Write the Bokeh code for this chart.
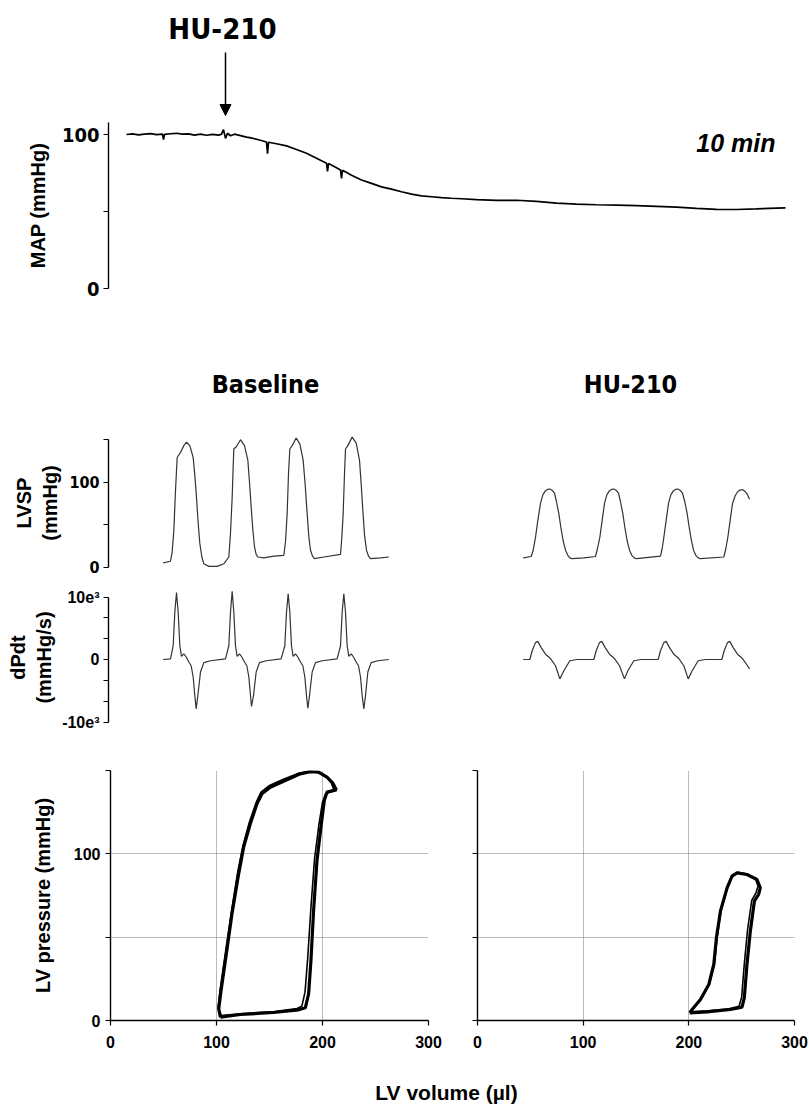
from bokeh.plotting import figure
from bokeh.layouts import column, row
from bokeh.models import (Range1d, FixedTicker, Label, Arrow, NormalHead,
                          LinearAxis, Grid)
from bokeh.embed import file_html
from bokeh.resources import INLINE

# ---------------- data ----------------
# Mean arterial pressure trace (time in min, mmHg)
map_t = [0, 0.6, 1.2, 1.8, 2.4, 3.0, 3.6, 3.7, 3.8, 4.4, 5.0, 5.6, 6.2, 6.8, 7.4,
         8.0, 8.6, 9.2, 9.5, 9.7, 9.9, 10.1, 10.4, 10.8, 11.4, 12.0, 12.6, 13.2,
         14.0, 14.1, 14.2, 15.0, 16.0, 17.0, 18.0, 19.0, 20.0, 20.1, 20.2, 21.0,
         21.4, 21.5, 21.6, 22.5, 23.5, 24.5, 25.5, 26.5, 27.5, 28.5, 29.5, 30.5,
         31.5, 32.5, 33.5, 35, 37, 39, 41, 43, 45, 47, 49, 51, 53, 55, 57, 59,
         61, 63, 65, 65.9]
map_v = [100, 100.4, 99.8, 100.3, 100.6, 99.9, 100.2, 96.7, 100.1, 100.5, 100.8,
         100.2, 100.4, 99.6, 100.2, 99.5, 100.1, 99.6, 100.2, 103.2, 97.5, 100.8,
         99.2, 100.2, 99.3, 98.3, 97.6, 96.6, 95.1, 87.5, 95.0, 94.0, 92.6, 90.3,
         87.8, 84.6, 81.4, 76.0, 81.1, 78.4, 77.0, 71.5, 76.8, 73.5, 70.5, 68.3,
         66.0, 64.5, 62.8, 61.3, 60.2, 59.6, 59.0, 58.6, 58.3, 57.7, 57.2, 57.3,
         56.6, 55.5, 54.8, 54.4, 54.1, 53.8, 53.3, 52.8, 52.0, 51.4, 51.3, 51.7,
         52.2, 52.3]
map_drug_t = 9.9

# LV systolic pressure, baseline (time in ms, mmHg)
lvsp_base_t = [8, 30, 35, 40, 45, 50, 55, 60, 70, 78, 88, 98, 103, 108, 113, 118,
               124, 130, 145, 170, 190,
               205, 210, 215, 218, 220, 228, 240, 252, 262, 267, 272, 277, 282,
               287, 292, 310, 340,
               370, 375, 380, 384, 388, 395, 407, 418, 428, 434, 440, 445, 450,
               456, 462, 490, 540,
               544, 548, 552, 555, 562, 575, 587, 597, 602, 607, 612, 618, 624,
               630, 660, 685]
lvsp_base_v = [5, 7, 18, 43, 90, 129, 132, 135, 143, 147, 143, 129, 108, 82, 52,
               28, 12, 4, 1, 1, 4,
               12, 40, 82, 118, 139, 142, 150, 143, 126, 100, 71, 44, 24, 15,
               12, 11, 13,
               14, 30, 63, 110, 139, 143, 152, 145, 126, 97, 63, 36, 20, 13, 10,
               12, 15,
               35, 63, 110, 139, 143, 153, 146, 126, 98, 67, 38, 20, 13, 10, 11,
               12]

# LV systolic pressure after HU-210
lvsp_hu_t = [8, 32, 38, 45, 52, 60, 67, 75, 81, 88, 95, 102, 108, 115, 121, 128,
             135, 142, 148, 155, 190, 225,
             231, 238, 245, 252, 259, 267, 273, 280, 287, 294, 300, 307, 313, 320,
             327, 334, 341, 348, 420,
             425, 430, 437, 444, 451, 459, 465, 472, 479, 486, 493, 500, 506, 513,
             519, 526, 533, 540, 610,
             616, 622, 629, 636, 644, 652, 660, 667, 674, 680, 687]
lvsp_hu_v = [11, 12.6, 20, 35, 55, 75, 85, 90, 91.5, 92, 90.5, 87, 77, 63, 47, 31,
             20, 14, 11, 10, 11, 12.6,
             22, 35, 55, 75, 85, 90, 91.5, 92, 90.5, 87, 77, 63, 47, 31,
             20, 14, 11, 10, 13,
             22, 35, 55, 75, 85, 90, 91.5, 92, 90.5, 87, 77, 63, 47, 31,
             20, 14, 11, 10, 12,
             22, 35, 55, 75, 84, 89, 91, 91, 89, 86, 80]

# dP/dt, baseline (mmHg/s)
dpdt_base_t = [8, 30, 38, 43, 48, 53, 58, 63, 70, 77, 85, 92, 98, 103, 107, 112,
               120, 130, 150, 195,
               205, 210, 215, 220, 225, 230, 237, 244, 252, 259, 265, 270, 273,
               279, 287, 297, 317, 362,
               373, 378, 383, 388, 393, 398, 405, 412, 420, 427, 433, 438, 442,
               447, 455, 465, 485, 530,
               540, 545, 550, 555, 560, 565, 572, 579, 587, 594, 600, 605, 610,
               615, 622, 632, 652, 685]
dpdt_base_v = [0, 100, 2200, 7600, 10700, 7600, 2200, 500, 900, 400, -400, -1000,
               -2800, -5800, -7900, -5800, -2000, -500, -200, 100,
               2200, 7600, 10900, 7600, 2200, 500, 900, 400, -400, -1000, -2800,
               -5800, -7500, -5800, -2000, -500, -200, 100,
               2200, 7600, 10500, 7600, 2200, 500, 900, 400, -400, -1000, -2800,
               -5800, -7800, -5800, -2000, -500, -200, 100,
               2200, 7600, 10500, 7600, 2200, 500, 900, 400, -400, -1000, -2800,
               -5800, -7900, -5800, -2000, -500, -200, 0]

# dP/dt after HU-210
dpdt_hu_t = [8, 28, 35, 45, 52, 62, 75, 90, 105, 118, 130, 148, 170, 220,
             227, 237, 244, 254, 267, 282, 297, 312, 322, 340, 362, 413,
             420, 430, 437, 447, 460, 475, 490, 503, 515, 533, 555, 604,
             611, 621, 628, 638, 651, 666, 681, 687]
dpdt_hu_v = [0, 0, 1400, 2700, 2900, 1900, 850, 150, -1000, -3100, -1800, -200, 0, 0,
             1400, 2700, 2900, 1900, 850, 150, -1000, -3100, -1800, -200, 0, 0,
             1400, 2700, 2900, 1900, 850, 150, -1000, -3100, -1800, -200, 0, 0,
             1400, 2700, 2900, 1900, 850, 150, -1000, -1500]

# Pressure-volume loops (volume in ul, pressure in mmHg)
pv_base_v1 = [103.7, 122.5, 153.9, 177.5, 183.8, 186.9, 189.1, 191.6, 194.8, 198.5,
              201.7, 204.2, 213.0, 209.8, 204.2, 196.3, 188.4, 179.0, 163.3, 150.7,
              142.9, 138.2, 131.9, 125.6, 120.9, 114.6, 109.3, 104.3, 102.1, 103.7]
pv_base_p1 = [2, 3.6, 4.8, 6.4, 7.6, 16, 36, 66, 96, 116, 132, 137, 138.4, 142.4,
              146, 149, 149.3, 148, 143.6, 140, 136, 130, 118, 104, 88, 64, 40, 18,
              7, 2]
pv_base_v2 = [104.5, 125, 155, 176, 180.5, 183.5, 186, 189, 192.5, 196.5, 200, 203,
              211, 208, 203, 195, 187.5, 178, 162, 150, 142, 137.5, 131, 125, 120,
              114, 108.5, 103.5, 101.5, 104.5]
pv_base_p2 = [3, 4.2, 5.4, 7.2, 8.5, 17, 37, 67, 97, 117, 131, 136, 138, 143, 146.5,
              149, 149.3, 148.5, 144.5, 141, 137, 131, 119, 105, 89, 65, 41, 19, 8, 3]

pv_hu_v1 = [200.8, 217.2, 239.3, 250.3, 252.5, 255.0, 258.2, 262.0, 266.0, 267.6,
            264.5, 255.0, 245.6, 240.9, 236.2, 229.9, 226.1, 223.6, 218.9, 211.0,
            203.1, 200.8]
pv_hu_p1 = [4.6, 5.2, 6.6, 8.0, 13.6, 33.6, 53.6, 71.6, 75.6, 79.6, 84.6, 87.6,
            88.6, 86.6, 79.6, 65.6, 49.6, 33.6, 21.6, 12.6, 6.6, 4.6]
pv_hu_v2 = [201.5, 218, 238, 247.5, 250, 252.5, 255.5, 259.5, 263.5, 265.5,
            263, 254, 246.5, 241.5, 236.8, 230.5, 226.8, 224.3, 219.5, 211.8,
            204, 201.5]
pv_hu_p2 = [5.2, 5.8, 7.0, 8.6, 14, 34, 54, 72, 76.5, 80.5, 85, 88, 89, 87, 80,
            66, 50, 34, 22, 13, 7, 5.2]

map_ticks = [0, 50, 100]
lvsp_ticks = [0, 50, 100, 150]
dpdt_ticks = [-10000, -6667, -3333, 0, 3333, 6667, 10000]
pv_x_ticks = [0, 100, 200, 300]
pv_y_ticks = [0, 50, 100, 150]

# ---------------- styling helpers ----------------
W = 809
NARROW = "Liberation Sans Narrow, DejaVu Sans Condensed, sans-serif"
ARIAL = "Liberation Sans, Arial, sans-serif"


def make_fig(width, height, xr, yr, ml, mr, mt, mb):
    p = figure(width=width, height=height, x_range=xr, y_range=yr,
               x_axis_type=None, y_axis_type=None, output_backend="svg",
               toolbar_location=None, min_border_left=ml, min_border_right=mr,
               min_border_top=mt, min_border_bottom=mb)
    p.outline_line_color = None
    p.background_fill_color = "white"
    p.border_fill_color = "white"
    return p


def style_axis(ax, font, size, label_size="20px"):
    ax.axis_line_color = "black"
    ax.axis_line_width = 1.4
    ax.major_tick_line_color = "black"
    ax.major_tick_line_width = 1.2
    ax.major_tick_out = 5
    ax.major_tick_in = 0
    ax.minor_tick_line_color = None
    ax.major_label_text_font = font
    ax.major_label_text_font_style = "bold"
    ax.major_label_text_font_size = size
    ax.major_label_text_color = "black"
    ax.major_label_standoff = 4
    ax.axis_label_text_font = ARIAL
    ax.axis_label_text_font_style = "bold"
    ax.axis_label_text_font_size = label_size
    ax.axis_label_text_color = "black"


def text(p, x, y, s, font, size, style="bold", align="center"):
    p.add_layout(Label(x=x, y=y, text=s, text_align=align, text_baseline="middle",
                       text_font=font, text_font_style=style, text_font_size=size,
                       text_color="black"))


# ---------------- MAP: drug marker strip ----------------
pA0 = make_fig(W, 122, Range1d(-1.8, 68.3), Range1d(0, 122), 108, 0, 0, 0)
text(pA0, 9.6, 94, "HU-210", NARROW, "29px")
pA0.add_layout(Arrow(end=NormalHead(size=11, fill_color="black", line_color="black"),
                     x_start=map_drug_t, y_start=70, x_end=map_drug_t, y_end=7,
                     line_width=1.5, line_color="black"))

# ---------------- MAP panel ----------------
pA = make_fig(W, 188, Range1d(-1.8, 68.3), Range1d(0, 107.8), 108, 0, 0, 22)
axA = LinearAxis(ticker=FixedTicker(ticks=map_ticks),
                 major_label_overrides={50: ""}, axis_label="MAP (mmHg)")
style_axis(axA, NARROW, "20px")
axA.axis_label_standoff = 10
pA.add_layout(axA, "left")
pA.line(map_t, map_v, line_color="black", line_width=1.7)
text(pA, 64.9, 94.2, "10 min", ARIAL, "25px", style="bold italic", align="right")

# ---------------- condition titles ----------------
pB0 = make_fig(W, 120, Range1d(-156, 1947), Range1d(0, 120), 108, 0, 0, 0)
text(pB0, 315, 46, "Baseline", NARROW, "25px")
text(pB0, 1410, 46, "HU-210", NARROW, "25px")

# ---------------- LVSP panel ----------------
pB = make_fig(W, 148, Range1d(-156, 1947), Range1d(-9.76, 160.8), 108, 0, 0, 3)
pB.extra_x_ranges = {"hu": Range1d(-1236, 867)}
axB = LinearAxis(bounds=(0, 150), ticker=FixedTicker(ticks=lvsp_ticks),
                 major_label_overrides={50: "", 150: ""}, axis_label="LVSP\n(mmHg)")
style_axis(axB, NARROW, "16px")
axB.axis_label_standoff = 5
pB.add_layout(axB, "left")
pB.line(lvsp_base_t, lvsp_base_v, line_color="#333333", line_width=1.2)
pB.line(lvsp_hu_t, lvsp_hu_v, line_color="#333333", line_width=1.2, x_range_name="hu")

# ---------------- dP/dt panel ----------------
pC = make_fig(W, 158, Range1d(-156, 1947), Range1d(-12320, 12960), 108, 0, 0, 0)
pC.extra_x_ranges = {"hu": Range1d(-1236, 867)}
axC = LinearAxis(bounds=(-10000, 10000), ticker=FixedTicker(ticks=dpdt_ticks),
                 major_label_overrides={10000: "10e\u00b3", 0: "0", -10000: "-10e\u00b3",
                                        6667: "", 3333: "", -3333: "", -6667: ""},
                 axis_label="dPdt\n(mmHg/s)")
style_axis(axC, ARIAL, "16px")
axC.axis_label_standoff = 4
pC.add_layout(axC, "left")
pC.line(dpdt_base_t, dpdt_base_v, line_color="#333333", line_width=1.2)
pC.line(dpdt_hu_t, dpdt_hu_v, line_color="#333333", line_width=1.2, x_range_name="hu")


# ---------------- PV loops ----------------
def pv_fig(width, ml, mr, ylabels):
    p = make_fig(width, 328, Range1d(0, 300), Range1d(0, 150), ml, mr, 34, 44)
    p.add_layout(Grid(dimension=0, ticker=FixedTicker(ticks=[100, 200, 300]),
                      grid_line_color="#777777", grid_line_dash="1 1",
                      grid_line_width=1))
    p.add_layout(Grid(dimension=1, ticker=FixedTicker(ticks=[50, 100, 150]),
                      grid_line_color="#777777", grid_line_dash="1 1",
                      grid_line_width=1))
    xa = LinearAxis(ticker=FixedTicker(ticks=pv_x_ticks))
    style_axis(xa, ARIAL, "16px")
    xa.major_label_standoff = 10
    ya = LinearAxis(ticker=FixedTicker(ticks=pv_y_ticks))
    style_axis(ya, ARIAL, "16px")
    ya.major_label_standoff = 5
    if ylabels:
        ya.major_label_overrides = {50: "", 150: ""}
        ya.axis_label = "LV pressure (mmHg)"
        ya.axis_label_standoff = 17
    else:
        ya.major_label_overrides = {0: "", 50: "", 100: "", 150: ""}
    p.add_layout(xa, "below")
    p.add_layout(ya, "left")
    return p


pD1 = pv_fig(460, 110, 32, True)
pD1.line(pv_base_v1, pv_base_p1, line_color="black", line_width=3.2)
pD1.line(pv_base_v2, pv_base_p2, line_color="black", line_width=1.6)

pD2 = pv_fig(349, 17, 15, False)
pD2.line(pv_hu_v1, pv_hu_p1, line_color="black", line_width=3.2)
pD2.line(pv_hu_v2, pv_hu_p2, line_color="black", line_width=1.6)

# ---------------- shared x label ----------------
# the column aligns this frame with the panels above (left border 108 px),
# so the x range is expressed directly in page pixels from 108 to 809
pE = make_fig(W, 42, Range1d(108, W), Range1d(0, 42), 108, 0, 0, 0)
text(pE, 446, 14, "LV volume (\u00b5l)", ARIAL, "21px")

layout = column(pA0, pA, pB0, pB, pC, row(pD1, pD2), pE)
open("out.html", "w").write(file_html(layout, INLINE))
